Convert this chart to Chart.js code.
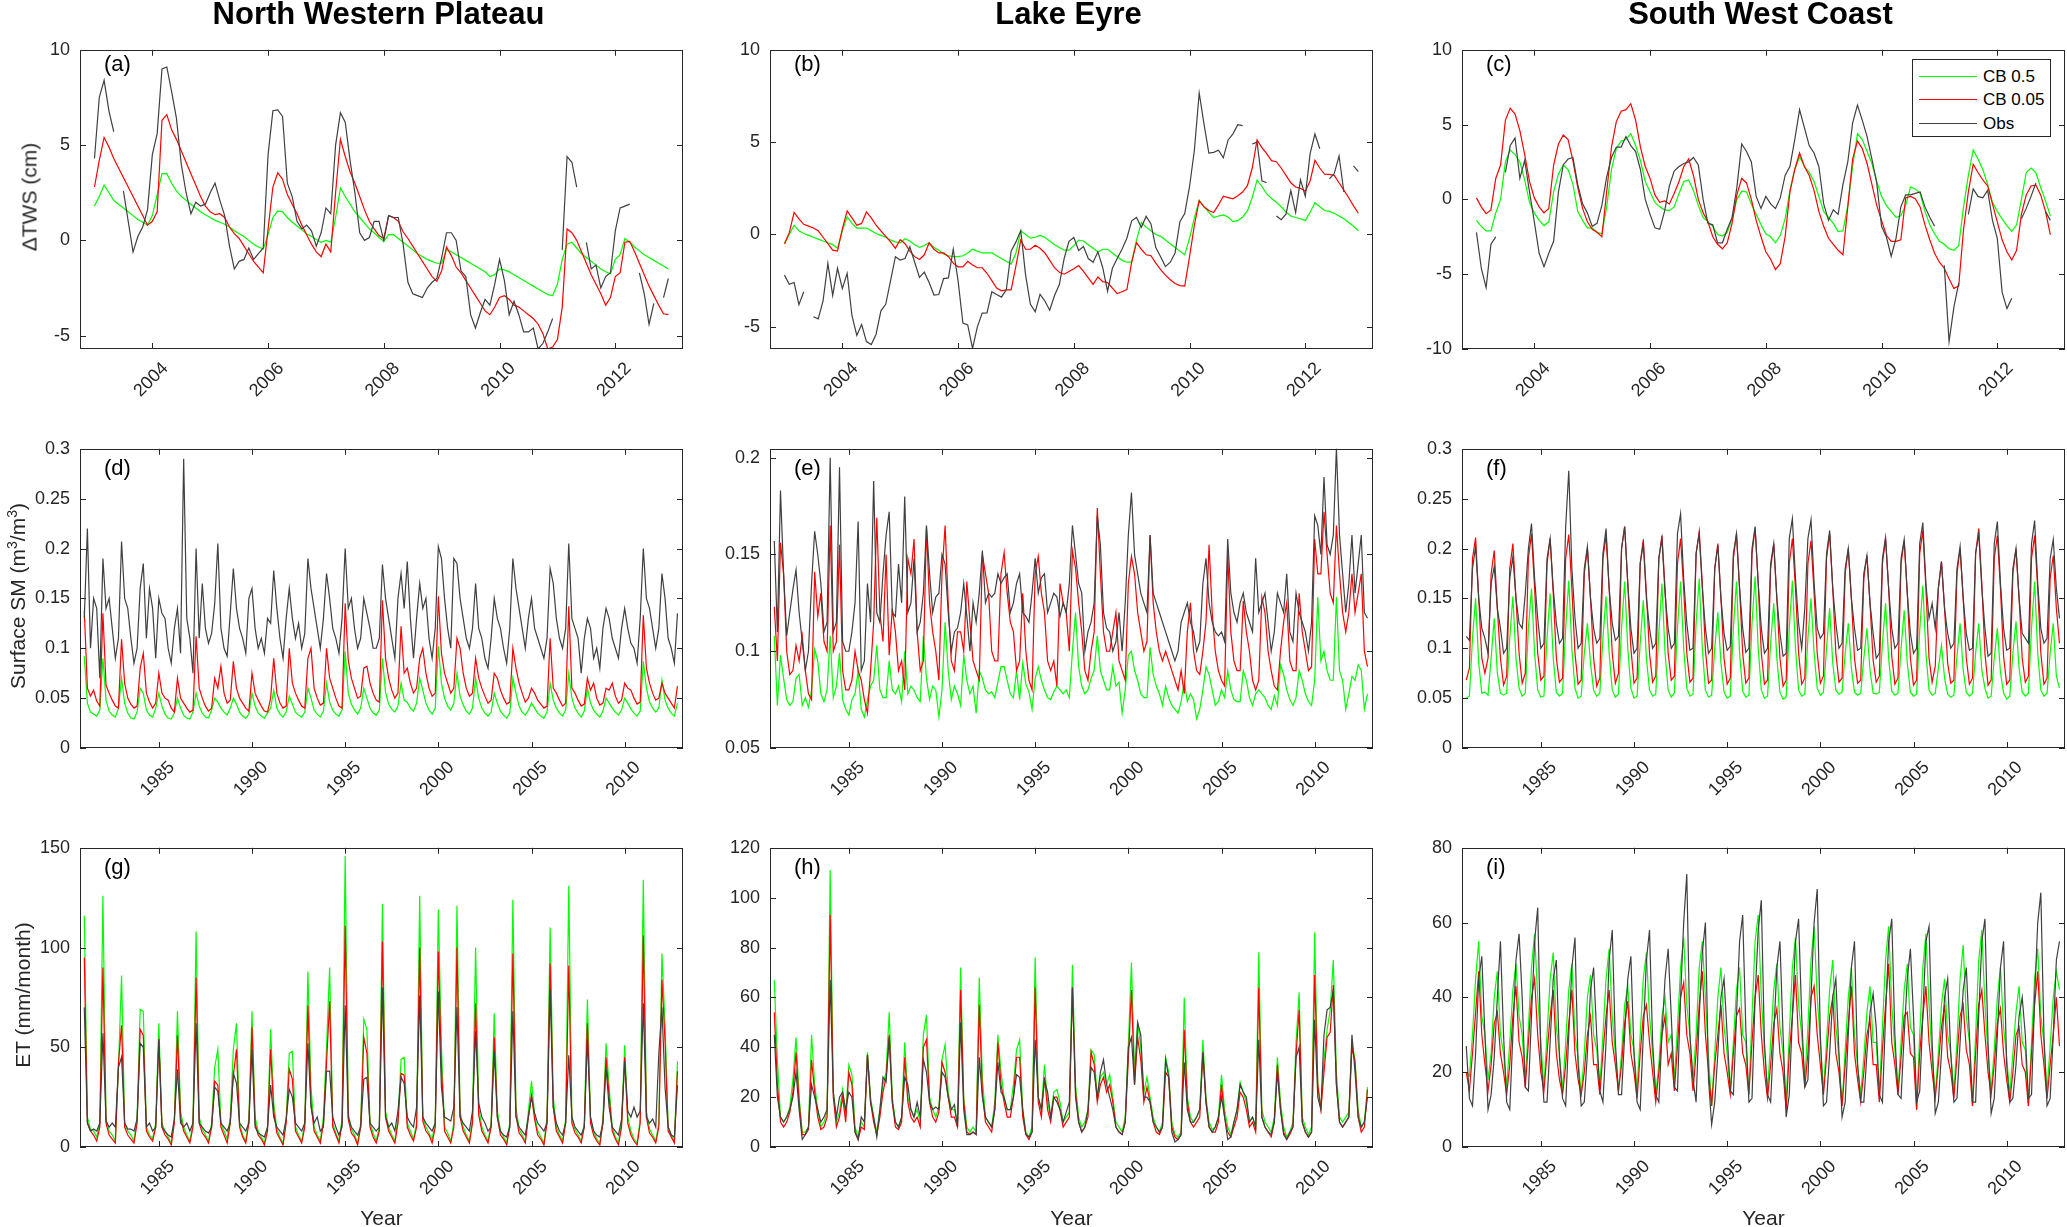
<!DOCTYPE html>
<html><head><meta charset="utf-8">
<script src="https://cdn.jsdelivr.net/npm/chart.js@4.4.0/dist/chart.umd.min.js"></script>
<style>
html,body{margin:0;padding:0;background:#fff;}
#wrap{position:relative;width:2067px;height:1227px;overflow:hidden;font-family:"Liberation Sans",Arial,Helvetica,sans-serif;background:#fff;}
#wrap canvas{position:absolute;}
.ttl{position:absolute;font-weight:bold;font-size:31px;line-height:31px;color:#000;white-space:nowrap;transform:translateX(-50%);z-index:2;}
.ylab{position:absolute;font-size:21px;line-height:21px;color:#262626;white-space:nowrap;transform:translate(-50%,-50%) rotate(-90deg);z-index:2;}
.ylab sup{font-size:14px;line-height:0;vertical-align:8px;}
.xlab{position:absolute;font-size:21px;line-height:21px;color:#262626;white-space:nowrap;transform:translateX(-50%);z-index:2;}
.plab{position:absolute;font-size:22px;line-height:22px;color:#000;white-space:nowrap;z-index:2;}
.leg{position:absolute;box-sizing:border-box;border:1px solid #262626;background:#fff;z-index:3;}
.leg .row{position:absolute;left:0;height:20px;width:100%;}
.leg .sw{position:absolute;left:6px;top:9px;width:58px;height:0;border-top:1.5px solid #000;}
.leg .tx{position:absolute;left:70px;top:0;font-size:17px;line-height:20px;color:#000;white-space:nowrap;}
</style>
</head><body>
<div id="wrap"></div>
<script>
// ---------------- labels ----------------
const regionTitles = ['North Western Plateau', 'Lake Eyre', 'South West Coast'];
const panelLetters = [['(a)','(b)','(c)'], ['(d)','(e)','(f)'], ['(g)','(h)','(i)']];
const rowYTitles = ['\u0394TWS (cm)', 'Surface SM (m<sup>3</sup>/m<sup>3</sup>)', 'ET (mm/month)'];
const xTitle = 'Year';
const seriesLabels = ['CB 0.5', 'CB 0.05', 'Obs'];
const seriesColors = ['#00ff00', '#ff0000', '#404040'];

// ---------------- tick labels ----------------
const twsXTicks = [2004, 2006, 2008, 2010, 2012];
const longXTicks = [1985, 1990, 1995, 2000, 2005, 2010];
const twsYTicksA = [-5, 0, 5, 10];
const twsYTicksB = [-5, 0, 5, 10];
const twsYTicksC = [-10, -5, 0, 5, 10];
const smYTicksD = [0, 0.05, 0.1, 0.15, 0.2, 0.25, 0.3];
const smYTicksE = [0.05, 0.1, 0.15, 0.2];
const smYTicksF = [0, 0.05, 0.1, 0.15, 0.2, 0.25, 0.3];
const etYTicksG = [0, 50, 100, 150];
const etYTicksH = [0, 20, 40, 60, 80, 100, 120];
const etYTicksI = [0, 20, 40, 60, 80];

// ---------------- time axes (monthly 2003-2012; every 2nd month 1981-2012) ----------------
const twsStartYear = 2003, twsCount = 120;
const longStartYear = 1981, longCount = 192;

// ================= ROW 1 : Delta TWS (cm), monthly Jan 2003 - Dec 2012 =================
const twsNW_cb05 = [
1.8,2.3,2.9,2.5,2.1,1.9,1.7,1.5,1.3,1.1,0.95,0.8,
1.3,2.4,3.5,3.5,3.0,2.6,2.3,2.1,1.9,1.7,1.5,1.35,
1.2,1.05,0.95,0.85,0.7,0.5,0.35,0.2,0.0,-0.2,-0.35,-0.45,
0.3,1.2,1.55,1.5,1.2,0.95,0.75,0.55,0.35,0.2,0.05,-0.1,
0.0,-0.1,1.2,2.75,2.3,1.9,1.5,1.2,0.9,0.6,0.4,0.15,
-0.05,0.3,0.3,0.1,-0.1,-0.3,-0.5,-0.7,-0.85,-1.0,-1.1,-1.2,
-1.2,-0.5,-0.6,-0.75,-0.9,-1.05,-1.2,-1.35,-1.5,-1.65,-1.9,-1.8,
-1.5,-1.55,-1.65,-1.8,-1.95,-2.1,-2.25,-2.4,-2.55,-2.7,-2.85,-2.9,
-2.3,-1.0,-0.2,-0.1,-0.4,-0.7,-0.9,-1.1,-1.3,-1.5,-1.65,-1.75,
-1.0,-0.75,0.1,-0.1,-0.35,-0.55,-0.75,-0.9,-1.05,-1.2,-1.35,-1.5];
const twsNW_cb005 = [
2.8,4.2,5.4,4.9,4.3,3.8,3.3,2.8,2.3,1.8,1.3,0.8,
1.0,1.5,6.3,6.6,5.8,5.3,4.7,4.1,3.5,2.9,2.3,1.8,
1.5,1.35,1.4,1.2,0.7,0.35,0.1,-0.3,-0.7,-1.1,-1.4,-1.7,
0.6,2.8,3.55,3.2,2.4,1.9,1.4,0.8,0.3,-0.2,-0.6,-0.85,
-0.2,-0.6,2.5,5.3,4.4,3.6,3.0,2.3,1.6,1.0,0.6,0.25,
0.1,1.3,1.2,1.0,0.45,0.1,-0.3,-0.7,-1.1,-1.5,-1.9,-2.15,
-1.6,-0.35,-0.8,-1.4,-1.7,-2.1,-2.5,-2.9,-3.3,-3.7,-3.9,-3.5,
-3.0,-2.9,-3.1,-3.4,-3.5,-3.7,-3.9,-4.1,-4.4,-4.9,-5.7,-5.6,
-5.2,-3.5,0.6,0.4,0.0,-0.6,-1.2,-1.8,-2.3,-2.8,-3.4,-3.0,
-1.9,-1.7,-0.1,-0.05,-0.6,-1.2,-1.8,-2.4,-2.9,-3.4,-3.85,-3.9];
const twsNW_obs = [
4.3,7.5,8.4,6.8,5.7,null,2.6,1.0,-0.6,0.2,0.7,1.6,
4.5,5.6,9.0,9.1,7.8,6.4,4.0,2.5,1.4,2.0,1.8,1.9,
2.5,3.0,2.1,1.3,-0.3,-1.5,-1.1,-1.0,-0.4,-1.0,-0.7,-0.4,
4.5,6.8,6.85,6.5,3.0,2.3,1.0,0.6,0.8,0.5,-0.3,0.4,
1.7,1.4,5.0,6.7,6.2,4.2,2.5,0.4,0.0,0.15,1.0,1.0,
0.0,1.3,1.2,1.2,-0.2,-2.2,-2.8,-2.9,-3.0,-2.5,-2.2,-2.0,
-0.9,0.4,0.4,0.0,-1.6,-1.9,-3.9,-4.6,-3.8,-3.1,-3.4,-2.3,
-1.0,-2.1,-3.9,-3.2,-3.9,-4.8,-4.8,-4.6,-5.7,-5.4,-4.8,-4.1,
null,-0.5,4.4,4.1,2.8,null,-0.1,-1.5,-1.3,-2.5,-1.9,-1.7,
0.5,1.7,1.8,1.9,null,-1.7,-2.8,-4.4,-3.3,null,-3.0,-2.0];

const twsLE_cb05 = [
-0.5,0.0,0.5,0.2,0.05,-0.05,-0.15,-0.25,-0.35,-0.45,-0.55,-0.75,
0.2,0.96,0.6,0.35,0.35,0.35,0.2,0.05,-0.05,-0.15,-0.3,-0.4,
-0.45,-0.23,-0.35,-0.55,-0.7,-0.6,-0.45,-0.7,-0.85,-1.05,-1.15,-1.2,
-1.2,-1.15,-1.0,-0.8,-0.9,-1.0,-1.0,-1.0,-1.15,-1.3,-1.45,-1.6,
-1.0,0.2,0.0,-0.2,-0.15,-0.05,-0.15,-0.35,-0.55,-0.7,-0.85,-0.85,
-0.6,-0.3,-0.35,-0.55,-0.75,-0.95,-0.8,-0.8,-1.0,-1.2,-1.4,-1.5,
-1.5,-0.3,0.65,0.4,0.2,0.0,-0.1,-0.3,-0.5,-0.7,-0.9,-1.1,
-0.2,0.9,1.85,1.5,1.2,0.92,1.0,1.06,0.95,0.7,0.75,0.95,
1.28,2.0,2.95,2.6,2.2,1.95,1.75,1.5,1.22,1.0,0.92,0.85,
0.75,1.2,1.72,1.5,1.3,1.25,1.15,1.0,0.85,0.65,0.45,0.2];
const twsLE_cb005 = [
-0.5,0.1,1.2,0.85,0.55,0.45,0.35,0.2,-0.15,-0.5,-0.85,-0.9,
0.3,1.28,0.9,0.5,0.6,1.22,0.9,0.5,0.2,-0.1,-0.4,-0.75,
-0.28,-0.5,-0.9,-1.2,-1.35,-1.1,-0.45,-0.8,-1.0,-1.0,-1.2,-1.55,
-1.75,-1.75,-1.45,-1.65,-1.8,-1.8,-2.1,-2.5,-2.9,-3.05,-3.0,-3.0,
-1.7,-0.3,-0.8,-0.8,-0.58,-0.75,-1.0,-1.4,-1.8,-2.05,-2.15,-2.0,
-1.85,-1.68,-2.0,-2.35,-2.7,-2.3,-2.55,-2.6,-2.9,-3.2,-3.1,-2.98,
-1.5,-0.44,-0.8,-1.1,-1.15,-1.55,-1.9,-2.2,-2.45,-2.65,-2.77,-2.8,
-1.2,0.5,1.83,1.5,1.3,1.19,1.6,2.07,2.0,1.93,2.1,2.3,
2.64,3.6,5.12,4.7,4.38,4.0,3.94,3.6,3.2,2.8,2.57,2.5,
2.34,2.9,4.02,3.6,3.26,3.25,3.2,2.8,2.4,1.99,1.55,1.15];
const twsLE_obs = [
-2.2,-2.7,-2.6,-3.8,-3.1,null,-4.45,-4.57,-3.6,-1.56,-3.3,-1.83,
-2.93,-2.1,-4.4,-5.46,-4.88,-5.8,-5.96,-5.4,-4.13,-3.78,-2.5,-1.2,
-1.38,-1.3,-0.67,-1.5,-2.32,-2.04,-2.6,-3.28,-3.25,-2.39,-2.35,-0.8,
-2.5,-4.8,-4.9,-6.17,-5.0,-4.26,-4.25,-3.1,-3.25,-3.39,-3.0,-0.9,
-0.4,0.21,-2.2,-3.78,-4.18,-3.24,-3.6,-4.1,-3.3,-2.71,-1.3,-0.37,
-0.16,-0.87,-0.65,-1.3,-1.5,-0.94,-1.8,-3.07,-1.83,-1.3,-0.8,-0.2,
0.74,0.92,0.39,0.98,0.57,-0.71,-1.2,-1.74,-1.5,-1.0,0.69,1.13,
2.6,4.56,7.66,5.98,4.41,4.45,4.56,4.15,5.12,5.45,5.94,5.89,
null,4.9,5.0,2.9,2.8,null,1.0,0.8,1.1,2.38,1.19,2.96,
2.07,4.38,5.44,4.64,null,3.01,3.3,4.25,2.3,null,3.72,3.4];

const twsSW_cb05 = [
-1.4,-1.8,-2.1,-2.1,-0.9,0.0,2.5,3.3,3.0,2.5,1.3,-0.2,
-0.9,-1.4,-1.75,-1.5,0.5,1.7,2.3,2.0,1.0,-0.8,-1.4,-1.9,
-1.9,-2.2,-2.3,-0.5,2.0,3.4,3.9,4.0,4.4,3.6,2.6,1.2,
0.5,-0.2,-0.5,-0.7,-0.75,-0.5,0.4,1.2,1.3,0.6,-0.4,-1.2,
-1.5,-1.8,-2.35,-2.45,-2.2,-1.3,0.0,0.55,0.5,-0.3,-1.0,-1.7,
-2.3,-2.5,-2.9,-2.4,-1.3,0.6,2.0,2.85,2.2,1.8,1.2,0.2,
-0.8,-1.2,-1.6,-2.15,-2.1,-0.4,2.2,4.4,4.0,3.2,2.4,1.2,
0.2,-0.4,-0.8,-1.2,-1.1,-0.4,0.83,0.7,0.4,-0.8,-1.7,-2.3,
-2.8,-3.0,-3.3,-3.4,-3.1,-0.5,1.6,3.3,2.7,2.0,1.0,-0.2,
-0.8,-1.3,-1.75,-2.15,-1.7,0.0,1.8,2.1,1.8,0.8,-0.1,-1.1];
const twsSW_cb005 = [
0.1,-0.5,-0.95,-0.7,1.4,2.3,5.3,6.1,5.7,4.6,3.0,1.2,
0.1,-0.5,-0.9,-0.6,2.3,3.7,4.3,4.0,2.6,0.8,-0.6,-1.5,
-2.0,-2.2,-2.5,0.5,3.5,5.2,5.9,6.0,6.4,5.3,3.5,2.2,
1.4,0.3,-0.2,-0.1,-0.3,0.4,1.2,2.2,2.7,1.6,0.0,-0.9,
-1.5,-2.5,-3.0,-3.3,-2.9,-1.6,0.3,1.4,1.1,0.0,-1.4,-2.5,
-3.5,-4.0,-4.7,-4.3,-2.5,0.5,2.0,3.1,2.2,1.6,0.6,-0.8,
-1.8,-2.6,-3.0,-3.4,-3.7,-0.5,2.7,3.9,3.4,2.4,1.0,-0.4,
-1.4,-2.4,-2.8,-2.8,-2.7,0.1,0.2,0.05,-0.5,-1.7,-2.7,-3.6,
-4.2,-4.6,-5.3,-5.95,-5.8,-2.0,0.5,2.35,1.8,1.3,0.9,-0.3,
-1.5,-2.7,-3.5,-4.05,-3.4,-1.0,0.3,0.9,0.95,0.3,-0.8,-2.35];
const twsSW_obs = [
-2.2,-4.6,-5.9,-3.0,-2.5,null,1.8,3.6,4.1,1.4,2.6,0.5,
-1.5,-3.6,-4.5,-3.6,-2.8,0.5,2.3,2.7,2.8,1.0,-0.3,-0.9,
-1.8,-1.6,-0.4,1.5,2.8,3.5,3.5,4.2,3.6,3.2,2.0,0.0,
-1.0,-1.9,-2.0,-0.8,0.9,1.9,2.2,2.4,2.5,2.8,2.3,0.0,
-1.6,-1.7,-2.9,-2.9,-2.0,-1.2,0.8,3.7,3.2,2.5,0.2,-0.6,
0.2,-0.3,-0.6,0.1,1.6,2.2,4.0,6.0,4.8,3.6,3.1,2.2,
-0.3,-1.4,-0.7,-1.0,1.0,2.5,5.1,6.3,5.3,4.2,2.7,1.1,
-1.8,-2.5,-3.8,-2.6,-0.5,0.3,0.3,0.4,0.5,-0.5,-1.2,-1.8,
null,-4.4,-9.5,-7.2,-5.6,null,-1.0,0.7,0.2,0.1,0.6,-1.4,
-2.6,-6.2,-7.3,-6.6,null,-1.3,-0.6,0.2,1.1,null,-0.8,-1.4];

// ================= ROW 2 : Surface SM (m3/m3), Jan/Mar/May/Jul/Sep/Nov 1981-2012 =================
const smNW_cb05 = [
.092,.045,.036,.034,.032,.038, .090,.048,.037,.033,.031,.040, .070,.045,.035,.030,.029,.036,
.060,.055,.038,.033,.031,.040, .055,.042,.034,.030,.029,.035, .050,.040,.033,.030,.029,.036,
.055,.042,.035,.031,.030,.038, .050,.046,.040,.036,.033,.040, .050,.044,.036,.032,.030,.034,
.055,.042,.035,.032,.030,.035, .040,.058,.040,.034,.031,.036, .052,.044,.036,.033,.031,.036,
.060,.050,.038,.034,.031,.037, .065,.046,.038,.034,.032,.038, .097,.055,.044,.038,.034,.040,
.060,.050,.040,.035,.033,.038, .090,.056,.044,.039,.036,.042, .065,.048,.046,.040,.037,.045,
.070,.058,.045,.038,.034,.040, .102,.065,.050,.042,.038,.045, .075,.052,.043,.037,.034,.040,
.070,.050,.040,.035,.032,.036, .055,.045,.037,.033,.030,.035, .070,.055,.042,.036,.033,.038,
.045,.040,.035,.032,.030,.036, .065,.048,.040,.035,.032,.038, .075,.050,.040,.035,.031,.037,
.060,.045,.038,.034,.031,.037, .050,.045,.040,.036,.033,.038, .050,.045,.039,.035,.032,.037,
.087,.060,.046,.040,.036,.040, .068,.048,.040,.035,.032,.045];
const smNW_cb005 = [
.138,.060,.052,.058,.047,.042, .135,.063,.055,.048,.042,.040, .109,.065,.050,.044,.040,.042,
.080,.095,.055,.046,.040,.045, .075,.055,.050,.048,.040,.036, .070,.050,.045,.040,.036,.038,
.112,.060,.050,.042,.037,.040, .070,.060,.082,.055,.045,.048, .087,.060,.050,.045,.040,.037,
.075,.055,.048,.042,.037,.036, .050,.090,.055,.045,.040,.042, .100,.065,.055,.048,.042,.040,
.090,.100,.060,.050,.043,.045, .100,.070,.060,.050,.042,.040, .145,.088,.070,.060,.050,.052,
.080,.082,.065,.055,.048,.046, .148,.090,.070,.058,.050,.055, .122,.075,.080,.065,.055,.060,
.090,.100,.075,.060,.052,.055, .152,.095,.075,.065,.055,.060, .110,.100,.075,.060,.052,.055,
.090,.070,.060,.052,.045,.048, .075,.070,.058,.050,.044,.046, .100,.080,.065,.055,.046,.050,
.060,.055,.048,.044,.040,.042, .110,.060,.055,.048,.042,.045, .142,.060,.055,.048,.042,.044,
.070,.058,.065,.050,.043,.045, .060,.058,.065,.052,.045,.048, .065,.060,.058,.050,.044,.046,
.133,.080,.065,.055,.048,.050, .065,.055,.050,.045,.040,.062];
const smNW_obs = [
.130,.220,.100,.150,.140,.070, .190,.140,.150,.120,.090,.110, .207,.150,.140,.110,.085,.100,
.160,.185,.110,.160,.140,.090, .150,.135,.130,.100,.085,.120, .140,.095,.290,.130,.110,.075,
.200,.110,.165,.120,.105,.115, .145,.205,.120,.100,.092,.135, .180,.140,.120,.110,.095,.150,
.160,.120,.100,.110,.095,.130, .125,.178,.140,.110,.090,.130, .160,.130,.110,.125,.100,.115,
.190,.160,.140,.120,.100,.130, .175,.150,.120,.110,.095,.130, .200,.140,.150,.120,.100,.110,
.150,.135,.120,.100,.100,.110, .184,.150,.130,.110,.090,.150, .175,.140,.187,.130,.090,.130,
.165,.140,.150,.110,.090,.120, .202,.190,.150,.120,.100,.190, .185,.150,.130,.110,.100,.120,
.165,.120,.110,.090,.080,.110, .150,.130,.120,.100,.085,.120, .190,.160,.140,.120,.100,.130,
.150,.120,.110,.100,.090,.110, .180,.165,.130,.110,.100,.120, .205,.130,.120,.110,.075,.110,
.130,.120,.090,.100,.080,.120, .140,.130,.110,.100,.090,.120, .140,.120,.105,.100,.085,.130,
.200,.150,.140,.120,.100,.120, .175,.150,.110,.100,.085,.135];

const smLE_cb05 = [
.108,.072,.098,.086,.075,.072, .074,.086,.088,.072,.076,.071, .080,.101,.095,.078,.074,.080,
.108,.076,.082,.099,.075,.070, .067,.075,.078,.090,.070,.066, .075,.082,.085,.103,.080,.076,
.076,.095,.080,.078,.082,.074, .100,.078,.082,.080,.076,.074, .108,.086,.075,.082,.080,.066,
.080,.115,.090,.075,.082,.078, .072,.098,.085,.078,.082,.068, .090,.086,.080,.078,.079,.076,
.084,.092,.092,.085,.078,.076, .090,.075,.094,.083,.079,.070, .086,.092,.085,.080,.076,.075,
.079,.082,.080,.078,.080,.076, .100,.120,.092,.082,.078,.080, .086,.090,.108,.090,.085,.080,
.080,.092,.082,.084,.068,.080, .098,.100,.090,.085,.078,.076, .076,.102,.088,.082,.078,.072,
.082,.076,.072,.070,.068,.074, .084,.074,.078,.075,.065,.070, .080,.092,.088,.080,.072,.074,
.080,.076,.090,.080,.075,.074, .074,.090,.085,.076,.072,.078, .080,.078,.076,.072,.070,.077,
.072,.093,.088,.080,.075,.072, .076,.090,.085,.078,.074,.072, .085,.128,.095,.100,.090,.085,
.085,.128,.090,.085,.070,.078, .087,.085,.093,.090,.070,.078];
const smLE_cb005 = [
.123,.095,.156,.140,.100,.088, .090,.103,.095,.108,.090,.078, .075,.141,.118,.130,.105,.100,
.165,.100,.105,.155,.090,.080, .080,.085,.100,.090,.085,.075, .068,.090,.115,.169,.120,.105,
.150,.098,.122,.110,.090,.095, .080,.148,.140,.158,.110,.090, .095,.164,.125,.110,.100,.085,
.140,.165,.125,.095,.090,.110, .110,.100,.136,.115,.095,.090, .085,.150,.140,.130,.100,.095,
.095,.140,.151,.130,.115,.110, .090,.095,.130,.100,.085,.080, .140,.149,.130,.120,.095,.090,
.095,.082,.135,.125,.120,.100, .152,.143,.125,.110,.090,.085, .100,.110,.174,.140,.110,.100,
.100,.110,.120,.095,.090,.085, .135,.149,.140,.120,.110,.100, .105,.160,.125,.110,.100,.095,
.100,.095,.090,.085,.080,.090, .078,.110,.125,.100,.090,.088, .100,.115,.155,.120,.100,.090,
.085,.082,.150,.110,.095,.090, .090,.126,.110,.100,.085,.080, .085,.128,.120,.100,.090,.082,
.080,.100,.115,.125,.095,.090, .090,.130,.110,.100,.090,.092, .158,.140,.140,.172,.150,.130,
.125,.165,.140,.120,.110,.120, .140,.120,.130,.140,.100,.092];
const smLE_obs = [
.157,.110,.183,.140,.108,.120, .132,.142,.120,.105,.090,.100, .135,.162,.150,.135,.110,.115,
.200,.110,.115,.195,.105,.100, .100,.110,.125,.167,.090,.095, .135,.115,.188,.120,.115,.140,
.160,.172,.120,.118,.145,.125, .180,.120,.125,.148,.110,.115, .130,.165,.140,.120,.128,.130,
.150,.145,.120,.100,.110,.112, .120,.135,.118,.100,.125,.115, .130,.152,.125,.130,.128,.130,
.140,.135,.138,.140,.120,.125, .135,.140,.120,.118,.115,.130, .148,.130,.138,.140,.120,.125,
.130,.128,.118,.125,.120,.135, .165,.150,.135,.130,.100,.110, .115,.125,.170,.155,.120,.112,
.110,.100,.105,.120,.100,.125, .160,.182,.150,.140,.130,.125, .120,.160,.130,.125,.120,.115,
.110,.105,.100,.095,.100,.115, .120,.125,.115,.110,.100,.105, .135,.148,.125,.115,.110,.108,
.110,.105,.158,.130,.120,.115, .125,.130,.120,.115,.110,.148, .120,.125,.130,.115,.100,.110,
.130,.125,.120,.140,.110,.105, .130,.120,.115,.110,.100,.115, .170,.165,.150,.190,.155,.150,
.160,.205,.160,.140,.120,.135, .160,.130,.145,.160,.120,.117];

const smSW_cb05 = [
.050,.052,.110,.150,.085,.055, .056,.053,.090,.130,.075,.055, .053,.055,.110,.152,.090,.060,
.052,.055,.120,.160,.095,.058, .051,.052,.110,.155,.090,.056, .052,.055,.120,.168,.100,.060,
.050,.052,.095,.125,.085,.058, .052,.055,.110,.152,.095,.058, .051,.054,.120,.167,.100,.060,
.050,.052,.105,.148,.090,.058, .052,.054,.115,.165,.095,.058, .051,.055,.120,.167,.100,.060,
.052,.054,.125,.170,.100,.058, .051,.053,.100,.136,.085,.056, .050,.052,.120,.167,.095,.057,
.051,.053,.125,.172,.100,.058, .050,.052,.105,.145,.090,.056, .049,.051,.120,.168,.100,.058,
.052,.054,.110,.150,.095,.060, .053,.056,.100,.140,.085,.058, .054,.056,.095,.125,.080,.056,
.053,.055,.090,.120,.078,.055, .054,.056,.105,.145,.090,.057, .053,.055,.100,.138,.085,.056,
.052,.054,.118,.163,.095,.058, .053,.055,.080,.103,.070,.054, .051,.053,.092,.125,.078,.056,
.052,.055,.095,.125,.078,.060, .050,.052,.090,.120,.076,.055, .049,.052,.095,.127,.080,.056,
.052,.055,.120,.167,.095,.058, .052,.055,.095,.125,.072,.060];
const smSW_cb005 = [
.068,.080,.190,.211,.150,.090, .075,.090,.175,.198,.140,.090, .063,.072,.180,.205,.150,.095,
.065,.075,.190,.215,.160,.095, .068,.072,.185,.210,.155,.090, .066,.070,.190,.214,.160,.095,
.064,.068,.175,.200,.150,.090, .062,.070,.190,.213,.160,.095, .065,.075,.200,.222,.165,.100,
.065,.070,.185,.209,.155,.095, .066,.072,.190,.213,.160,.095, .068,.072,.185,.210,.160,.095,
.066,.070,.195,.217,.165,.098, .065,.068,.180,.205,.150,.090, .064,.070,.190,.215,.160,.095,
.065,.070,.195,.220,.165,.095, .064,.068,.180,.205,.150,.090, .062,.068,.185,.210,.160,.095,
.064,.070,.185,.208,.155,.095, .065,.072,.190,.215,.160,.095, .066,.070,.175,.200,.150,.090,
.065,.068,.170,.193,.145,.088, .066,.072,.185,.210,.160,.092, .064,.070,.185,.208,.155,.090,
.063,.068,.195,.218,.160,.090, .066,.082,.160,.187,.140,.085, .065,.068,.175,.200,.150,.090,
.064,.070,.195,.220,.165,.095, .063,.068,.190,.213,.160,.092, .064,.068,.175,.200,.150,.090,
.066,.072,.190,.213,.160,.095, .064,.070,.170,.193,.140,.105];
const smSW_obs = [
.112,.108,.180,.202,.150,.120, .110,.095,.165,.182,.140,.120, .095,.100,.170,.192,.150,.125,
.120,.155,.200,.225,.170,.130, .100,.105,.190,.210,.160,.125, .105,.110,.222,.278,.180,.130,
.100,.105,.180,.202,.150,.120, .105,.110,.195,.220,.160,.125, .108,.112,.200,.222,.165,.120,
.095,.100,.185,.205,.150,.120, .100,.105,.190,.210,.155,.120, .100,.105,.215,.235,.170,.125,
.098,.100,.195,.215,.160,.120, .095,.100,.180,.203,.150,.115, .098,.102,.195,.215,.160,.120,
.096,.100,.200,.222,.165,.120, .095,.100,.185,.205,.150,.115, .092,.095,.210,.230,.170,.125,
.100,.140,.210,.229,.165,.120, .110,.115,.195,.218,.160,.125, .100,.105,.180,.200,.150,.120,
.098,.100,.175,.193,.145,.115, .090,.095,.190,.211,.160,.120, .100,.105,.190,.209,.155,.115,
.095,.100,.205,.226,.165,.130, .145,.120,.160,.187,.140,.115, .100,.105,.180,.202,.150,.115,
.098,.100,.195,.215,.160,.120, .092,.095,.205,.227,.165,.120, .098,.100,.180,.200,.150,.115,
.110,.105,.205,.228,.165,.120, .105,.110,.190,.209,.160,.130];

// ================= ROW 3 : ET (mm/month), Jan/Mar/May/Jul/Sep/Nov 1981-2012 =================
const etNW_cb05 = [
116,15,9,8,5,12, 126,14,8,6,3,40, 86,12,8,6,3,15, 69,68,10,6,4,12, 62,12,8,5,2,14, 68,18,10,6,3,12,
108,15,9,6,3,12, 40,49,12,8,4,15, 49,62,12,6,3,14, 68,15,8,5,2,10, 59,22,9,5,2,14, 47,48,10,6,3,12,
88,30,10,6,3,15, 50,90,12,7,3,14, 146,17,9,6,2,12, 64,59,12,7,3,10, 122,18,10,6,3,14, 44,45,12,8,4,12,
126,15,10,7,4,12, 119,50,10,7,3,12, 121,18,10,6,3,14, 100,20,10,6,3,12, 67,18,8,5,2,12, 124,20,9,6,3,18,
33,16,8,5,2,15, 110,25,10,6,3,14, 131,15,9,6,3,12, 74,15,8,4,2,14, 52,30,10,5,2,12, 51,15,8,4,2,14,
134,18,9,6,3,12, 97,61,10,6,3,43];
const etNW_cb005 = [
95,12,8,6,3,10, 90,12,6,4,2,42, 61,10,6,4,2,12, 59,56,8,5,3,10, 54,10,6,4,1,12, 56,15,8,5,2,10,
85,12,7,5,2,10, 33,31,10,6,2,12, 36,49,10,5,2,12, 60,12,6,4,1,8, 49,18,7,4,1,12, 39,34,8,5,2,10,
71,22,8,5,2,12, 42,73,10,6,2,12, 111,14,7,5,1,10, 55,47,10,5,2,8, 103,15,8,5,2,12, 37,36,10,6,3,10,
100,13,8,6,2,10, 98,40,8,5,2,10, 100,15,8,5,2,12, 72,16,8,5,2,10, 55,15,6,4,1,10, 97,16,7,5,2,15,
26,14,6,4,1,12, 92,20,8,5,2,12, 91,12,7,5,2,10, 62,12,6,3,1,12, 45,25,8,4,1,10, 45,12,6,3,1,12,
106,15,7,5,2,10, 84,53,8,5,2,38];
const etNW_obs = [
70,12,8,9,8,12, 57,13,10,12,10,40, 45,12,9,9,8,14, 52,50,10,12,8,10, 54,10,8,6,5,14, 39,12,10,12,8,12,
62,12,10,8,7,10, 30,28,12,10,8,12, 37,32,12,10,8,12, 49,10,7,6,5,10, 31,15,10,8,6,14, 29,25,12,10,8,12,
52,20,12,15,8,10, 38,38,15,10,6,10, 71,15,10,8,6,10, 34,35,12,10,8,10, 80,15,10,12,8,18, 35,32,15,12,10,20,
76,15,12,10,8,12, 78,30,15,14,13,20, 70,15,12,10,8,18, 58,22,15,12,8,10, 48,15,8,6,5,10, 68,15,10,8,6,15,
25,17,12,10,8,12, 79,20,12,8,6,12, 46,15,10,8,6,10, 54,15,8,6,5,12, 40,20,10,8,6,14, 43,18,15,20,15,18,
72,15,12,14,10,47, 70,30,10,6,5,31];

const etLE_cb05 = [
67,35,12,10,12,16, 27,44,20,6,6,8, 45,25,15,8,10,14, 111,22,10,14,23,12, 33,29,8,4,10,8, 38,20,12,6,15,25,
30,54,20,10,8,12, 42,20,15,12,15,10, 45,53,20,15,12,16, 35,41,22,15,15,10, 72,20,8,6,8,6, 68,28,12,10,8,18,
45,30,20,15,15,25, 39,43,15,6,4,8, 76,20,15,33,18,12, 22,23,18,10,12,14, 73,25,12,8,10,15, 39,37,20,28,30,25,
29,20,10,8,6,12, 41,74,30,50,40,22, 28,20,12,8,6,10, 36,30,10,5,4,6, 60,20,12,10,12,15, 43,20,10,7,8,12,
29,15,8,5,10,15, 26,22,18,10,12,8, 78,15,10,8,6,12, 36,18,8,4,6,10, 42,62,12,8,5,8, 86,25,15,35,47,55,
75,30,12,10,12,14, 42,35,15,8,10,24];
const etLE_cb005 = [
54,25,10,8,10,14, 22,38,18,5,5,7, 35,22,12,7,8,12, 93,20,8,12,20,10, 30,25,6,3,8,7, 37,18,10,5,12,22,
28,45,18,8,7,10, 36,18,12,10,12,8, 40,43,18,12,10,14, 34,30,20,12,12,8, 63,18,6,5,6,5, 57,22,10,8,6,15,
42,25,18,12,12,20, 36,36,12,5,3,6, 64,18,12,28,15,10, 20,20,15,8,10,12, 64,22,10,6,8,12, 38,33,18,25,28,22,
25,18,8,6,5,10, 35,63,25,44,35,18, 24,18,10,6,5,8, 30,28,8,4,3,5, 47,18,10,8,10,12, 38,18,8,6,6,10,
25,12,6,4,8,12, 22,20,15,8,10,6, 64,12,8,6,4,10, 33,15,6,3,5,8, 37,55,10,6,4,6, 69,25,15,30,44,46,
65,25,10,8,10,12, 40,34,12,6,8,23];
const etLE_obs = [
45,20,12,10,12,15, 20,30,15,3,5,8, 25,20,15,10,12,15, 67,22,12,20,22,15, 22,20,6,3,12,10, 37,18,12,4,15,28,
26,44,18,10,8,12, 28,25,15,12,18,12, 35,30,18,15,16,15, 30,28,20,15,17,8, 50,15,5,5,6,5, 36,20,12,10,8,15,
34,22,20,15,15,20, 29,28,15,5,4,6, 43,20,15,27,22,12, 20,18,15,10,14,18, 64,20,10,6,8,15, 32,30,20,30,35,25,
20,15,8,6,5,10, 40,44,25,50,45,20, 20,18,10,8,6,8, 35,28,6,2,3,5, 34,15,10,10,12,15, 38,18,8,6,8,12,
20,12,3,4,10,15, 25,22,20,10,12,8, 43,12,8,6,5,10, 30,15,5,3,6,8, 36,40,10,6,4,6, 51,20,15,45,55,56,
63,25,10,8,10,12, 45,30,12,8,10,20];

const etSW_cb05 = [
20,19,30,45,55,35, 30,18,25,40,47,30, 25,16,28,42,49,35, 30,18,32,48,57,40, 28,16,30,45,52,32, 25,15,28,42,49,30,
24,14,25,40,46,30, 26,16,30,45,53,35, 25,15,25,38,43,30, 26,15,30,45,52,35, 25,14,22,35,40,28, 30,18,32,48,56,38,
30,18,30,48,55,40, 24,11,25,40,48,32, 25,15,28,42,48,30, 28,14,35,55,62,40, 26,15,28,42,49,32, 25,12,30,48,56,38,
30,18,32,50,59,40, 28,15,28,42,50,32, 24,11,26,40,48,30, 22,14,24,36,43,28, 28,14,32,50,59,38, 26,15,28,42,49,32,
30,10,30,48,57,38, 24,14,25,38,45,30, 25,15,28,45,54,35, 28,11,30,50,58,38, 25,15,26,40,48,32, 24,14,25,36,43,28,
26,11,28,45,53,35, 28,15,27,40,47,42];
const etSW_cb005 = [
20,15,25,36,47,30, 22,15,22,33,36,25, 20,14,22,35,43,28, 24,16,28,40,45,30, 20,15,25,35,42,25, 18,14,22,33,42,25,
18,14,20,30,35,22, 22,14,25,35,42,28, 22,15,22,33,39,25, 20,13,25,35,38,28, 20,12,20,30,35,22, 25,15,27,40,44,30,
25,15,25,38,47,30, 20,11,22,30,38,25, 20,14,25,35,37,25, 22,14,28,40,46,30, 20,13,22,33,37,25, 20,10,25,35,46,28,
25,16,25,40,43,30, 22,14,24,35,40,25, 20,11,22,33,43,25, 18,12,20,30,34,22, 22,12,26,38,49,28, 22,14,24,35,36,25,
24,10,25,35,43,28, 20,13,22,32,38,24, 20,13,24,35,38,26, 22,11,25,38,42,30, 20,14,22,33,37,25, 18,12,20,30,32,22,
20,11,25,38,47,30, 22,13,22,30,40,27];
const etSW_obs = [
27,13,11,25,45,51, 30,10,14,24,40,55, 30,12,10,30,50,57, 40,16,15,35,55,64, 25,12,12,28,45,50, 24,13,11,30,48,56,
22,11,12,25,42,48, 30,15,12,28,50,58, 28,14,14,30,45,51, 25,12,10,30,50,58, 28,14,12,30,45,53, 35,16,15,40,60,73,
30,18,12,35,52,60, 18,6,12,25,40,45, 30,15,14,35,55,62, 32,12,13,40,58,66, 28,14,12,30,48,55, 30,8,14,35,55,61,
35,16,18,40,60,69, 30,11,12,25,40,45, 25,8,12,30,48,55, 22,12,12,25,36,41, 32,14,12,35,55,61, 30,14,13,30,45,53,
35,12,15,35,55,59, 28,9,12,25,40,45, 25,12,13,28,42,48, 30,12,12,35,55,61, 28,9,13,30,48,55, 22,12,13,22,35,40,
30,13,14,40,60,68, 30,11,13,30,50,55];

// ---------------- layout ----------------
const colLeft = [80, 770, 1462], rowTop = [44, 443, 842];
const PW = 603, PH = 305, YW = 75, PT = 15, PR = 4, XH = 75;
const FONT = '"Liberation Sans", Arial, Helvetica, sans-serif';
const TICK_FONT = 18;

const panels = [
  {r:0,c:0,s:[twsNW_cb05,twsNW_cb005,twsNW_obs],t:'tws',ymin:-5.7,ymax:10,yt:twsYTicksA},
  {r:0,c:1,s:[twsLE_cb05,twsLE_cb005,twsLE_obs],t:'tws',ymin:-6.2,ymax:10,yt:twsYTicksB},
  {r:0,c:2,s:[twsSW_cb05,twsSW_cb005,twsSW_obs],t:'tws',ymin:-10,ymax:10,yt:twsYTicksC,legend:true},
  {r:1,c:0,s:[smNW_cb05,smNW_cb005,smNW_obs],t:'long',ymin:0,ymax:0.3,yt:smYTicksD},
  {r:1,c:1,s:[smLE_cb05,smLE_cb005,smLE_obs],t:'long',ymin:0.05,ymax:0.2046,yt:smYTicksE},
  {r:1,c:2,s:[smSW_cb05,smSW_cb005,smSW_obs],t:'long',ymin:0,ymax:0.3,yt:smYTicksF},
  {r:2,c:0,s:[etNW_cb05,etNW_cb005,etNW_obs],t:'long',ymin:0,ymax:150,yt:etYTicksG},
  {r:2,c:1,s:[etLE_cb05,etLE_cb005,etLE_obs],t:'long',ymin:0,ymax:120,yt:etYTicksH},
  {r:2,c:2,s:[etSW_cb05,etSW_cb005,etSW_obs],t:'long',ymin:0,ymax:80,yt:etYTicksI}
];

const boxPlugin = {
  id: 'matlabBox',
  afterDraw(chart) {
    const {ctx, chartArea: a, scales: {x, y}} = chart;
    ctx.save();
    ctx.strokeStyle = '#262626';
    ctx.lineWidth = 1;
    ctx.strokeRect(Math.round(a.left) + 0.5, Math.round(a.top) + 0.5, Math.round(a.right - a.left) - 1, Math.round(a.bottom - a.top) - 1);
    const L = 6;
    ctx.beginPath();
    x.ticks.forEach(t => {
      const px = Math.round(x.getPixelForValue(t.value)) + 0.5;
      ctx.moveTo(px, a.bottom); ctx.lineTo(px, a.bottom - L);
      ctx.moveTo(px, a.top); ctx.lineTo(px, a.top + L);
    });
    y.ticks.forEach(t => {
      const py = Math.round(y.getPixelForValue(t.value)) + 0.5;
      ctx.moveTo(a.left, py); ctx.lineTo(a.left + L, py);
      ctx.moveTo(a.right, py); ctx.lineTo(a.right - L, py);
    });
    ctx.stroke();
    ctx.restore();
  }
};

const wrap = document.getElementById('wrap');
function addDiv(cls, html, css) {
  const d = document.createElement('div');
  d.className = cls; d.innerHTML = html;
  Object.assign(d.style, css);
  wrap.appendChild(d);
  return d;
}

panels.forEach(p => {
  const isTws = p.t === 'tws';
  const start = isTws ? twsStartYear : longStartYear;
  const step = isTws ? 1 / 12 : 2 / 12;
  const cv = document.createElement('canvas');
  const W = YW + PW + PR, H = PT + PH + XH;
  cv.width = W; cv.height = H;
  cv.style.left = (colLeft[p.c] - YW) + 'px';
  cv.style.top = (rowTop[p.r] - PT) + 'px';
  cv.style.width = W + 'px'; cv.style.height = H + 'px';
  wrap.appendChild(cv);

  const datasets = p.s.map((arr, k) => ({
    label: seriesLabels[k],
    data: arr.map((v, i) => ({x: start + i * step, y: v})),
    borderColor: seriesColors[k],
    borderWidth: 1.2,
    pointRadius: 0,
    fill: false,
    tension: 0,
    spanGaps: false,
    order: 3 - k
  }));
  const xt = isTws ? twsXTicks : longXTicks;
  new Chart(cv, {
    type: 'line',
    data: {datasets},
    options: {
      responsive: false, animation: false, devicePixelRatio: 1,
      layout: {padding: {top: PT, right: PR, left: 0, bottom: 0}},
      plugins: {legend: {display: false}, tooltip: {enabled: false}},
      scales: {
        x: {
          type: 'linear',
          min: isTws ? 2002.75 : 1980.77,
          max: isTws ? 2013.17 : 2013.13,
          afterFit(s) { s.height = XH; },
          afterBuildTicks(s) { s.ticks = xt.map(v => ({value: v})); },
          grid: {display: false, drawTicks: false},
          border: {display: false},
          ticks: {autoSkip: false, minRotation: 45, maxRotation: 45, padding: 9, labelOffset: 13,
                  color: '#262626', font: {size: TICK_FONT, family: FONT}, callback: v => String(v)}
        },
        y: {
          type: 'linear', min: p.ymin, max: p.ymax,
          afterFit(s) { s.width = YW; },
          afterBuildTicks(s) { s.ticks = p.yt.map(v => ({value: v})); },
          grid: {display: false, drawTicks: false},
          border: {display: false},
          ticks: {padding: 10, color: '#262626', font: {size: TICK_FONT, family: FONT}, callback: v => String(v)}
        }
      }
    },
    plugins: [boxPlugin]
  });

  // panel letter
  addDiv('plab', panelLetters[p.r][p.c], {left: (colLeft[p.c] + 24) + 'px', top: (rowTop[p.r] + (p.r === 0 ? 9 : 14)) + 'px'});

  if (p.legend) {
    const lg = addDiv('leg', '', {left: '1912px', top: '59px', width: '139px', height: '78px'});
    const rowsY = [7, 30, 54];
    seriesLabels.forEach((lab, k) => {
      const row = document.createElement('div');
      row.className = 'row'; row.style.top = rowsY[k] + 'px';
      row.innerHTML = '<div class="sw" style="border-top-color:' + seriesColors[k] + '"></div><div class="tx">' + lab + '</div>';
      lg.appendChild(row);
    });
  }
});

// column titles
regionTitles.forEach((t, c) => addDiv('ttl', t, {left: (colLeft[c] + PW / 2 - 3) + 'px', top: '-2px'}));
// y axis titles
const yLabX = [29, 17, 22];
rowYTitles.forEach((t, r) => addDiv('ylab', t, {left: yLabX[r] + 'px', top: (rowTop[r] + PH / 2) + 'px'}));
// x axis titles (bottom row)
[0, 1, 2].forEach(c => addDiv('xlab', xTitle, {left: (colLeft[c] + PW / 2) + 'px', top: '1207px'}));
</script>
</body></html>
